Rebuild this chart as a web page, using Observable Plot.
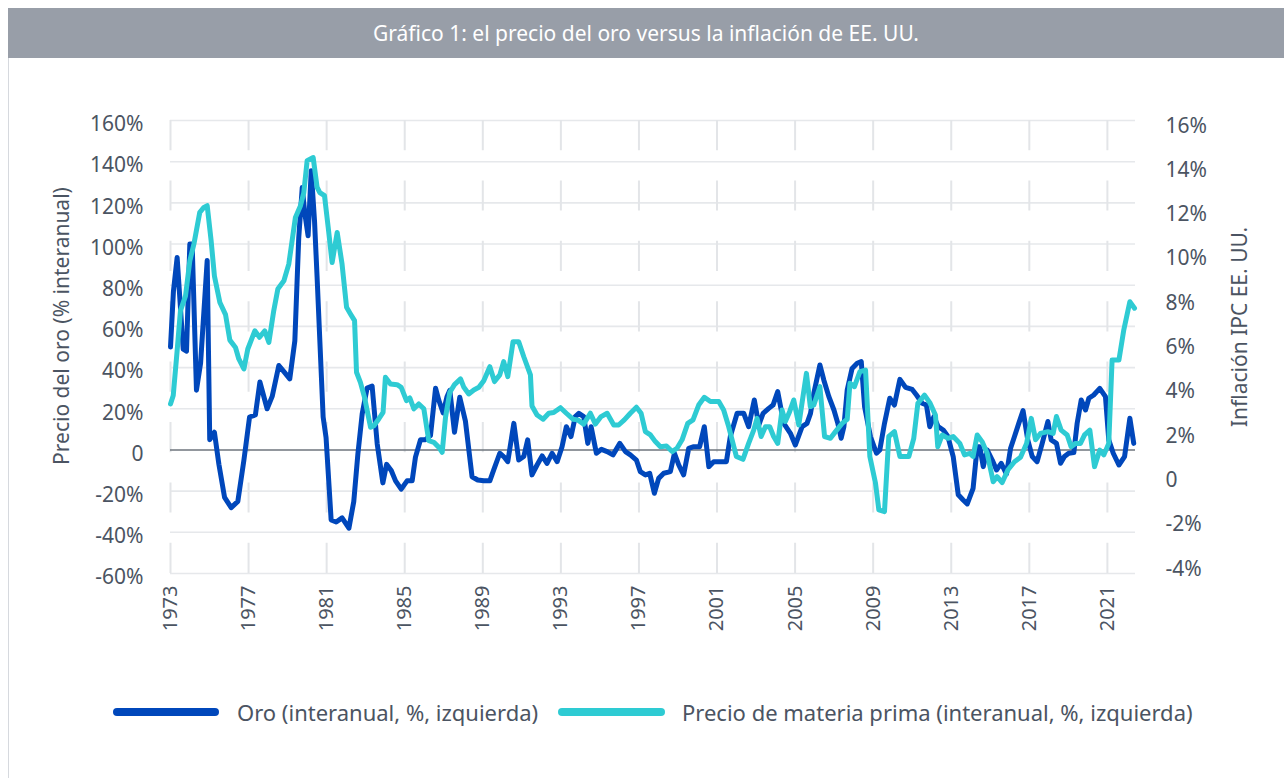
<!DOCTYPE html>
<html><head><meta charset="utf-8">
<script src="https://cdn.jsdelivr.net/npm/d3@7"></script>
<script src="https://cdn.jsdelivr.net/npm/@observablehq/plot@0.6"></script>
<style>
body{margin:0;background:#fff;font-family:"Noto Sans",sans-serif;}
#wrap{position:relative;width:1284px;height:778px;overflow:hidden;background:#fff;}
#frame{position:absolute;left:8px;top:8px;width:1300px;height:800px;border-left:1px solid #d6d9de;}
#title{position:absolute;left:8px;top:8px;width:1276px;height:50px;background:#989ea8;color:#fff;font-size:21px;line-height:50px;text-align:center;}
#chart{position:absolute;left:0;top:58px;}
.sw{position:absolute;height:8px;border-radius:4px;top:708px;}
.lt{position:absolute;top:697px;font-size:22px;line-height:30px;color:#4b5462;white-space:nowrap;}
</style></head>
<body>
<div id="wrap">
  <div id="frame"></div>
  <div id="title">Gráfico 1: el precio del oro versus la inflación de EE. UU.</div>
  <div id="chart"></div>
  <div class="sw" style="left:113px;width:106px;background:#0047bb"></div>
  <div class="lt" style="left:237px">Oro (interanual, %, izquierda)</div>
  <div class="sw" style="left:558px;width:107px;background:#2ecbd3"></div>
  <div class="lt" style="left:682px">Precio de materia prima (interanual, %, izquierda)</div>
</div>
<script>
// Gold price, year-over-year %, left axis: [year, value]
const oro = [[1973.00,50],[1973.15,77],[1973.34,93.5],[1973.65,49],[1973.82,48],[1973.99,100],[1974.11,100],[1974.33,29],[1974.54,42],[1974.88,92],[1975.01,5],[1975.25,8.6],[1975.48,-7],[1975.77,-23],[1976.11,-28],[1976.45,-25],[1976.76,-5],[1977.05,16],[1977.35,17],[1977.58,33],[1977.95,20],[1978.21,26],[1978.55,41],[1978.81,38],[1979.11,34.5],[1979.37,53],[1979.57,103],[1979.75,127.5],[1979.88,115],[1980.05,104],[1980.21,135.6],[1980.38,111],[1980.51,84],[1980.82,16],[1980.97,6],[1981.23,-34],[1981.49,-35],[1981.79,-33],[1982.14,-38],[1982.39,-25],[1982.60,-2],[1982.82,17.5],[1983.07,30],[1983.33,31],[1983.59,3],[1983.88,-16],[1984.07,-7],[1984.31,-10],[1984.53,-15],[1984.82,-19],[1985.12,-15],[1985.38,-15],[1985.55,-3.5],[1985.81,5],[1986.06,5],[1986.32,7],[1986.58,30],[1986.75,24],[1986.97,18],[1987.17,26],[1987.31,29],[1987.55,8.6],[1987.82,25.6],[1988.11,14],[1988.45,-13],[1988.74,-14.6],[1989.05,-15],[1989.36,-15],[1989.56,-9.7],[1989.87,-1.6],[1990.07,-3.2],[1990.28,-5.7],[1990.59,12.9],[1990.84,-4.9],[1991.10,-3.2],[1991.30,4.9],[1991.52,-12.1],[1991.78,-7.3],[1992.04,-2.9],[1992.29,-6.5],[1992.55,-1.6],[1992.81,-5.7],[1993.06,1.6],[1993.28,11.3],[1993.52,6.5],[1993.74,16.2],[1993.92,17.8],[1994.17,16.2],[1994.38,3.2],[1994.55,11.3],[1994.82,-1.6],[1995.08,0.3],[1995.37,-0.8],[1995.67,-2.4],[1996.02,3.2],[1996.31,-0.8],[1996.56,-2.4],[1996.87,-4.9],[1997.07,-10.5],[1997.33,-12.1],[1997.55,-11.3],[1997.79,-21],[1998.01,-13.8],[1998.27,-11.3],[1998.61,-10.5],[1998.82,-1.6],[1999.04,-7.3],[1999.29,-12.1],[1999.55,0.8],[1999.81,1.6],[2000.11,1.6],[2000.35,11.3],[2000.58,-8.1],[2000.83,-5.7],[2001.21,-5.7],[2001.48,-5.7],[2001.68,6.5],[2002.03,17.8],[2002.37,17.8],[2002.62,11.3],[2002.91,24.3],[2003.14,12.1],[2003.36,17.8],[2003.65,20.2],[2003.87,21.8],[2004.11,28.3],[2004.42,12.9],[2004.76,8.1],[2005.01,2.4],[2005.36,11.3],[2005.61,12.9],[2005.79,17.8],[2005.96,27.5],[2006.27,41.3],[2006.47,34],[2006.73,25.9],[2006.99,19.4],[2007.19,12.9],[2007.36,5.7],[2007.50,11.3],[2007.67,29.1],[2007.92,39.6],[2008.18,42.1],[2008.39,42.9],[2008.56,21],[2008.86,6.5],[2009.17,-1.6],[2009.34,0],[2009.58,12.9],[2009.85,25.1],[2010.09,21.8],[2010.37,34.3],[2010.66,30.4],[2011.00,29.4],[2011.22,26.7],[2011.51,22.7],[2011.73,21.8],[2011.90,11.3],[2012.11,16.2],[2012.33,11.3],[2012.59,9.7],[2012.83,6.5],[2013.10,-3.2],[2013.36,-21.8],[2013.61,-24.3],[2013.82,-26.2],[2014.12,-18.6],[2014.33,1.6],[2014.46,1.6],[2014.64,-8.1],[2014.84,0],[2015.10,-4.9],[2015.32,-9.7],[2015.56,-6.5],[2015.83,-11.7],[2016.04,0.8],[2016.24,6.5],[2016.46,12.9],[2016.68,19.1],[2016.92,4.9],[2017.15,-3.2],[2017.40,-5.7],[2017.66,3.2],[2017.95,13.8],[2018.12,4.9],[2018.39,3.2],[2018.60,-6.5],[2018.80,-3.2],[2019.02,-1.6],[2019.28,-1.3],[2019.45,12.9],[2019.66,24.3],[2019.88,19.4],[2020.05,25.1],[2020.30,26.7],[2020.61,29.9],[2020.90,25.9],[2021.07,4.9],[2021.30,-1.6],[2021.59,-7.3],[2021.88,-3.2],[2022.15,15.4],[2022.35,3.2]];

// US CPI inflation, %, right axis: [year, value]
const ipc = [[1973.00,3.22],[1973.14,3.6],[1973.34,5.62],[1973.51,7.43],[1973.77,8.1],[1973.99,9.68],[1974.20,10.44],[1974.50,11.87],[1974.71,12.09],[1974.88,12.17],[1975.08,10.6],[1975.25,9.0],[1975.53,7.8],[1975.82,7.25],[1976.04,6.1],[1976.33,5.77],[1976.50,5.25],[1976.76,4.8],[1976.96,5.7],[1977.32,6.52],[1977.56,6.23],[1977.83,6.52],[1978.04,6.0],[1978.29,7.43],[1978.50,8.41],[1978.81,8.78],[1979.06,9.53],[1979.40,11.64],[1979.66,12.17],[1979.83,12.76],[1980.00,14.2],[1980.31,14.34],[1980.51,13.0],[1980.65,12.76],[1980.89,12.62],[1981.08,11.18],[1981.28,9.6],[1981.54,10.96],[1981.79,9.53],[1982.02,7.58],[1982.22,7.28],[1982.43,6.98],[1982.53,4.65],[1982.73,4.19],[1982.94,3.52],[1983.25,2.17],[1983.42,2.24],[1983.67,2.54],[1983.89,2.84],[1984.01,4.42],[1984.27,4.12],[1984.61,4.09],[1984.82,3.97],[1985.09,3.37],[1985.26,3.49],[1985.47,3.0],[1985.72,3.22],[1985.98,3.0],[1986.23,1.56],[1986.49,1.49],[1986.75,1.26],[1986.92,1.04],[1987.09,2.62],[1987.31,3.75],[1987.55,4.09],[1987.86,4.35],[1988.03,3.97],[1988.28,3.67],[1988.54,3.85],[1988.80,3.97],[1989.05,4.27],[1989.36,4.9],[1989.60,4.23],[1989.87,4.53],[1990.07,5.13],[1990.28,4.45],[1990.55,6.03],[1990.84,6.03],[1991.10,5.35],[1991.44,4.53],[1991.52,3.13],[1991.78,2.72],[1992.09,2.53],[1992.38,2.8],[1992.63,2.83],[1992.98,3.05],[1993.28,2.8],[1993.62,2.53],[1993.86,2.5],[1994.17,2.31],[1994.51,2.8],[1994.77,2.31],[1995.06,2.65],[1995.37,2.8],[1995.71,2.27],[1995.96,2.27],[1996.25,2.5],[1996.56,2.8],[1996.87,3.07],[1997.11,2.8],[1997.33,1.97],[1997.59,1.82],[1997.84,1.52],[1998.10,1.29],[1998.41,1.32],[1998.70,1.07],[1998.95,1.22],[1999.21,1.6],[1999.50,2.34],[1999.77,2.5],[2000.06,3.17],[2000.35,3.52],[2000.66,3.33],[2001.09,3.33],[2001.34,2.95],[2001.60,2.19],[2001.99,0.85],[2002.33,0.72],[2002.62,1.44],[2002.88,2.04],[2003.05,2.57],[2003.26,1.75],[2003.48,2.19],[2003.70,2.19],[2003.90,1.75],[2004.11,1.44],[2004.33,2.95],[2004.50,2.43],[2004.72,2.87],[2004.93,3.4],[2005.19,2.27],[2005.58,4.6],[2005.78,3.1],[2005.96,3.17],[2006.27,4.0],[2006.51,1.75],[2006.81,1.67],[2007.07,1.97],[2007.41,2.34],[2007.67,2.53],[2007.81,4.15],[2008.04,4.0],[2008.32,4.68],[2008.61,4.75],[2008.83,0.85],[2009.12,-0.36],[2009.29,-1.56],[2009.58,-1.64],[2009.80,1.75],[2010.09,1.97],[2010.37,0.85],[2010.83,0.85],[2011.08,1.67],[2011.29,3.25],[2011.63,3.62],[2011.90,3.28],[2012.19,2.72],[2012.31,1.29],[2012.54,1.82],[2012.83,1.67],[2013.10,1.75],[2013.44,1.44],[2013.68,0.92],[2013.95,0.99],[2014.12,0.85],[2014.33,1.82],[2014.58,1.52],[2014.84,0.99],[2015.15,-0.29],[2015.35,-0.06],[2015.61,-0.33],[2015.90,0.24],[2016.24,0.61],[2016.55,0.81],[2016.86,1.44],[2017.10,2.57],[2017.32,1.6],[2017.57,1.89],[2017.95,1.97],[2018.22,1.89],[2018.39,2.65],[2018.63,2.04],[2018.94,1.82],[2019.14,1.29],[2019.37,1.44],[2019.62,1.44],[2019.83,1.82],[2020.10,2.04],[2020.34,0.39],[2020.61,1.14],[2020.82,0.92],[2021.07,1.44],[2021.24,5.2],[2021.59,5.2],[2021.84,6.56],[2022.15,7.83],[2022.39,7.54]];

const xTicks = [1973,1977,1981,1985,1989,1993,1997,2001,2005,2009,2013,2017,2021];
const leftTicks = [-60,-40,-20,0,20,40,60,80,100,120,140,160];
const rightTicks = [-4,-2,0,2,4,6,8,10,12,14,16];
const leftTitle = "Precio del oro (% interanual)";
const rightTitle = "Inflación IPC EE. UU.";

// right-axis (CPI %) to left-axis units
const K = 10.76, OFF = -12.3;
const toLeft = r => r * K + OFF;
const fromLeft = v => Math.round((v - OFF) / K);

const oroData = oro.map(([t, v]) => ({t, v}));
const ipcData = ipc.map(([t, v]) => ({t, v: toLeft(v)}));

const pct = d => d === 0 ? "0" : `${d}%`;
const textColor = "#4b5462";

const chart = Plot.plot({
  width: 1284, height: 620,
  marginTop: 62, marginBottom: 105, marginLeft: 170, marginRight: 149,
  x: {domain: [1973, 2022.44]},
  y: {domain: [-60, 160]},
  style: {fontFamily: "'Noto Sans', sans-serif", background: "transparent"},
  marks: [
    Plot.ruleY(leftTicks.filter(d => d !== 0), {stroke: "#e6e8eb", strokeWidth: 1.6}),
    Plot.ruleX(xTicks, {stroke: "#e3e5e8", strokeWidth: 2, strokeDasharray: "30.2,30.2"}),
    Plot.ruleY([0], {stroke: "#6e757d", strokeWidth: 1.5}),
    Plot.axisY({anchor: "left", ticks: leftTicks, tickFormat: pct, tickSize: 0, tickPadding: 27, fontSize: 21, color: textColor, dy: 4, label: null}),
    Plot.axisY({anchor: "right", ticks: rightTicks.map(toLeft), tickFormat: v => pct(fromLeft(v)), tickSize: 0, tickPadding: 30, fontSize: 21, color: textColor, dy: 5, label: null}),
    Plot.axisX({ticks: xTicks, tickFormat: d => `${d}`, tickRotate: -90, tickSize: 0, tickPadding: 12, fontSize: 20, color: textColor, label: null}),
    Plot.text([leftTitle], {text: d => d, frameAnchor: "left", textAnchor: "middle", dx: -108, dy: -21, rotate: -90, fontSize: 21, fill: textColor}),
    Plot.text([rightTitle], {text: d => d, frameAnchor: "right", textAnchor: "middle", dx: 105, dy: -20, rotate: -90, fontSize: 21, fill: textColor}),
    Plot.line(oroData, {x: "t", y: "v", stroke: "#0047bb", strokeWidth: 5, strokeLinejoin: "round"}),
    Plot.line(ipcData, {x: "t", y: "v", stroke: "#2ecbd3", strokeWidth: 5, strokeLinejoin: "round"})
  ]
});
document.getElementById("chart").appendChild(chart);
</script>
</body></html>
